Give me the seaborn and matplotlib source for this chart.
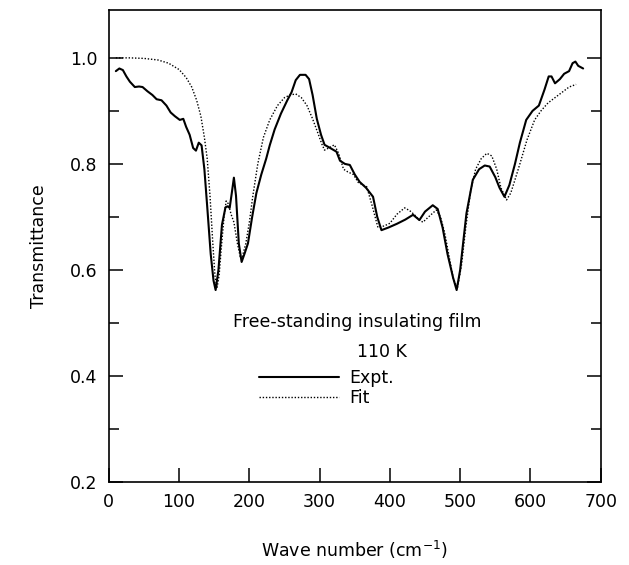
import matplotlib
matplotlib.use("Agg")
import matplotlib.pyplot as plt
import seaborn as sns
import pandas as pd

# measured spectrum (solid line)
expt_wn = [10, 15, 20, 25, 30, 37, 43, 48, 55, 62, 68, 75, 82, 88, 94, 101, 106, 110,
           115, 120, 124, 128, 132, 136, 140, 145, 149, 152, 156, 161, 166, 169, 172,
           175, 178, 181, 185, 189, 193, 198, 204, 210, 217, 224, 229, 236, 245, 254,
           260, 266, 272, 280, 285, 290, 296, 302, 307, 315, 324, 329, 336, 343, 350,
           357, 366, 376, 382, 388, 398, 410, 422, 433, 442, 450, 461, 468, 475, 482,
           490, 495, 500, 505, 509, 518, 527, 535, 542, 550, 556, 563, 570, 578, 585,
           594, 603, 612, 620, 626, 630, 635, 642, 648, 655, 660, 664, 668, 675]
expt_t = [0.975, 0.98, 0.977, 0.965, 0.955, 0.945, 0.946, 0.945, 0.937, 0.93, 0.922,
          0.92, 0.91, 0.897, 0.89, 0.883, 0.885, 0.87, 0.855, 0.83, 0.825, 0.84, 0.835,
          0.79, 0.72, 0.63, 0.58, 0.562, 0.6, 0.685, 0.718, 0.72, 0.717, 0.745, 0.774,
          0.74, 0.65, 0.615, 0.63, 0.65, 0.7, 0.745, 0.78, 0.81, 0.835, 0.865, 0.895,
          0.92, 0.935, 0.958, 0.968, 0.968, 0.96, 0.93, 0.885, 0.855, 0.836, 0.83, 0.823,
          0.806, 0.8, 0.798, 0.78, 0.766, 0.755, 0.738, 0.7, 0.675, 0.68, 0.687, 0.695,
          0.704, 0.694, 0.71, 0.722, 0.715, 0.68, 0.63, 0.585, 0.562, 0.6, 0.66, 0.707,
          0.77, 0.79, 0.797, 0.795, 0.775, 0.755, 0.738, 0.76, 0.8, 0.84, 0.883, 0.9,
          0.91, 0.94, 0.965, 0.965, 0.952, 0.96, 0.97, 0.975, 0.99, 0.993, 0.985, 0.98]

# fitted spectrum (dotted line)
fit_wn = [10, 30, 50, 70, 85, 100, 110, 118, 125, 131, 136, 140, 144, 148, 151, 154,
          157, 160, 164, 167, 170, 174, 178, 183, 187, 190, 195, 200, 205, 212, 220,
          229, 240, 250, 258, 266, 274, 282, 290, 297, 303, 307, 313, 321, 327, 334,
          340, 348, 355, 362, 367, 375, 383, 392, 400, 410, 421, 428, 435, 441, 447,
          455, 466, 472, 478, 485, 490, 496, 502, 508, 515, 522, 530, 538, 545, 552,
          558, 566, 572, 578, 585, 595, 606, 615, 625, 635, 645, 655, 665]
fit_t = [1.0, 1.0, 0.999, 0.996, 0.99, 0.978, 0.963, 0.945, 0.92, 0.89, 0.85, 0.81,
         0.74, 0.65, 0.59, 0.566, 0.59, 0.64, 0.7, 0.73, 0.725, 0.705, 0.69, 0.65,
         0.625, 0.625, 0.65, 0.69, 0.74, 0.8, 0.85, 0.883, 0.91, 0.925, 0.93, 0.932,
         0.925, 0.91, 0.885, 0.86, 0.838, 0.826, 0.83, 0.836, 0.82, 0.79, 0.785, 0.78,
         0.765, 0.76, 0.757, 0.72, 0.68, 0.683, 0.688, 0.705, 0.717, 0.712, 0.704,
         0.695, 0.69, 0.7, 0.713, 0.7, 0.67, 0.62, 0.585, 0.565, 0.61, 0.68, 0.75,
         0.79, 0.81, 0.82, 0.815, 0.79, 0.755, 0.732, 0.745, 0.77, 0.8, 0.845, 0.883,
         0.9, 0.915, 0.925, 0.935, 0.945, 0.95]

sns.set_theme(style="ticks")
plt.rcParams['font.family'] = ['DejaVu Sans']
plt.rcParams['xtick.direction'] = 'in'
plt.rcParams['ytick.direction'] = 'in'
plt.rcParams['text.color'] = 'black'
plt.rcParams['axes.labelcolor'] = 'black'

df_e = pd.DataFrame({'wn': expt_wn, 'T': expt_t})
df_f = pd.DataFrame({'wn': fit_wn, 'T': fit_t})

fig = plt.figure(figsize=(6.29, 5.65), dpi=100)
ax = fig.add_axes([0.173, 0.147, 0.782, 0.835])

sns.lineplot(data=df_e, x='wn', y='T', ax=ax, color='black', lw=1.5,
             sort=False, label='Expt.')
sns.lineplot(data=df_f, x='wn', y='T', ax=ax, color='black', lw=1.0,
             linestyle=(0, (1, 1.3)), sort=False, label='Fit')

ax.set_xlim(0, 700)
ax.set_ylim(0.2, 1.09)
ax.set_xticks(range(0, 701, 100))
ax.set_yticks([0.2, 0.4, 0.6, 0.8, 1.0])
ax.set_yticks([0.3, 0.5, 0.7, 0.9], minor=True)
ax.set_yticklabels(['0.2', '0.4', '0.6', '0.8', '1.0'])
ax.tick_params(which='both', top=False, right=True, width=1.1,
               labelsize=12.5, colors='black', pad=8)
ax.tick_params(which='major', length=10)
ax.tick_params(which='minor', length=7)
for s in ax.spines.values():
    s.set_linewidth(1.2)
    s.set_color('black')

ax.set_xlabel('Wave number (cm$^{-1}$)', fontsize=12.5, labelpad=20)
ax.set_ylabel('Transmittance', fontsize=12.5, labelpad=16)

ax.text(354, 0.502, 'Free-standing insulating film', fontsize=12.5,
        ha='center', va='center')
ax.text(353, 0.445, '110 K', fontsize=12.5, ha='left', va='center')
ax.legend(loc='upper left', bbox_to_anchor=(0.305, 0.24), frameon=False,
          fontsize=12.5, handlelength=4.6, handletextpad=0.6,
          labelspacing=0.15, borderaxespad=0, borderpad=0)

fig.savefig('out.png', dpi=100)
